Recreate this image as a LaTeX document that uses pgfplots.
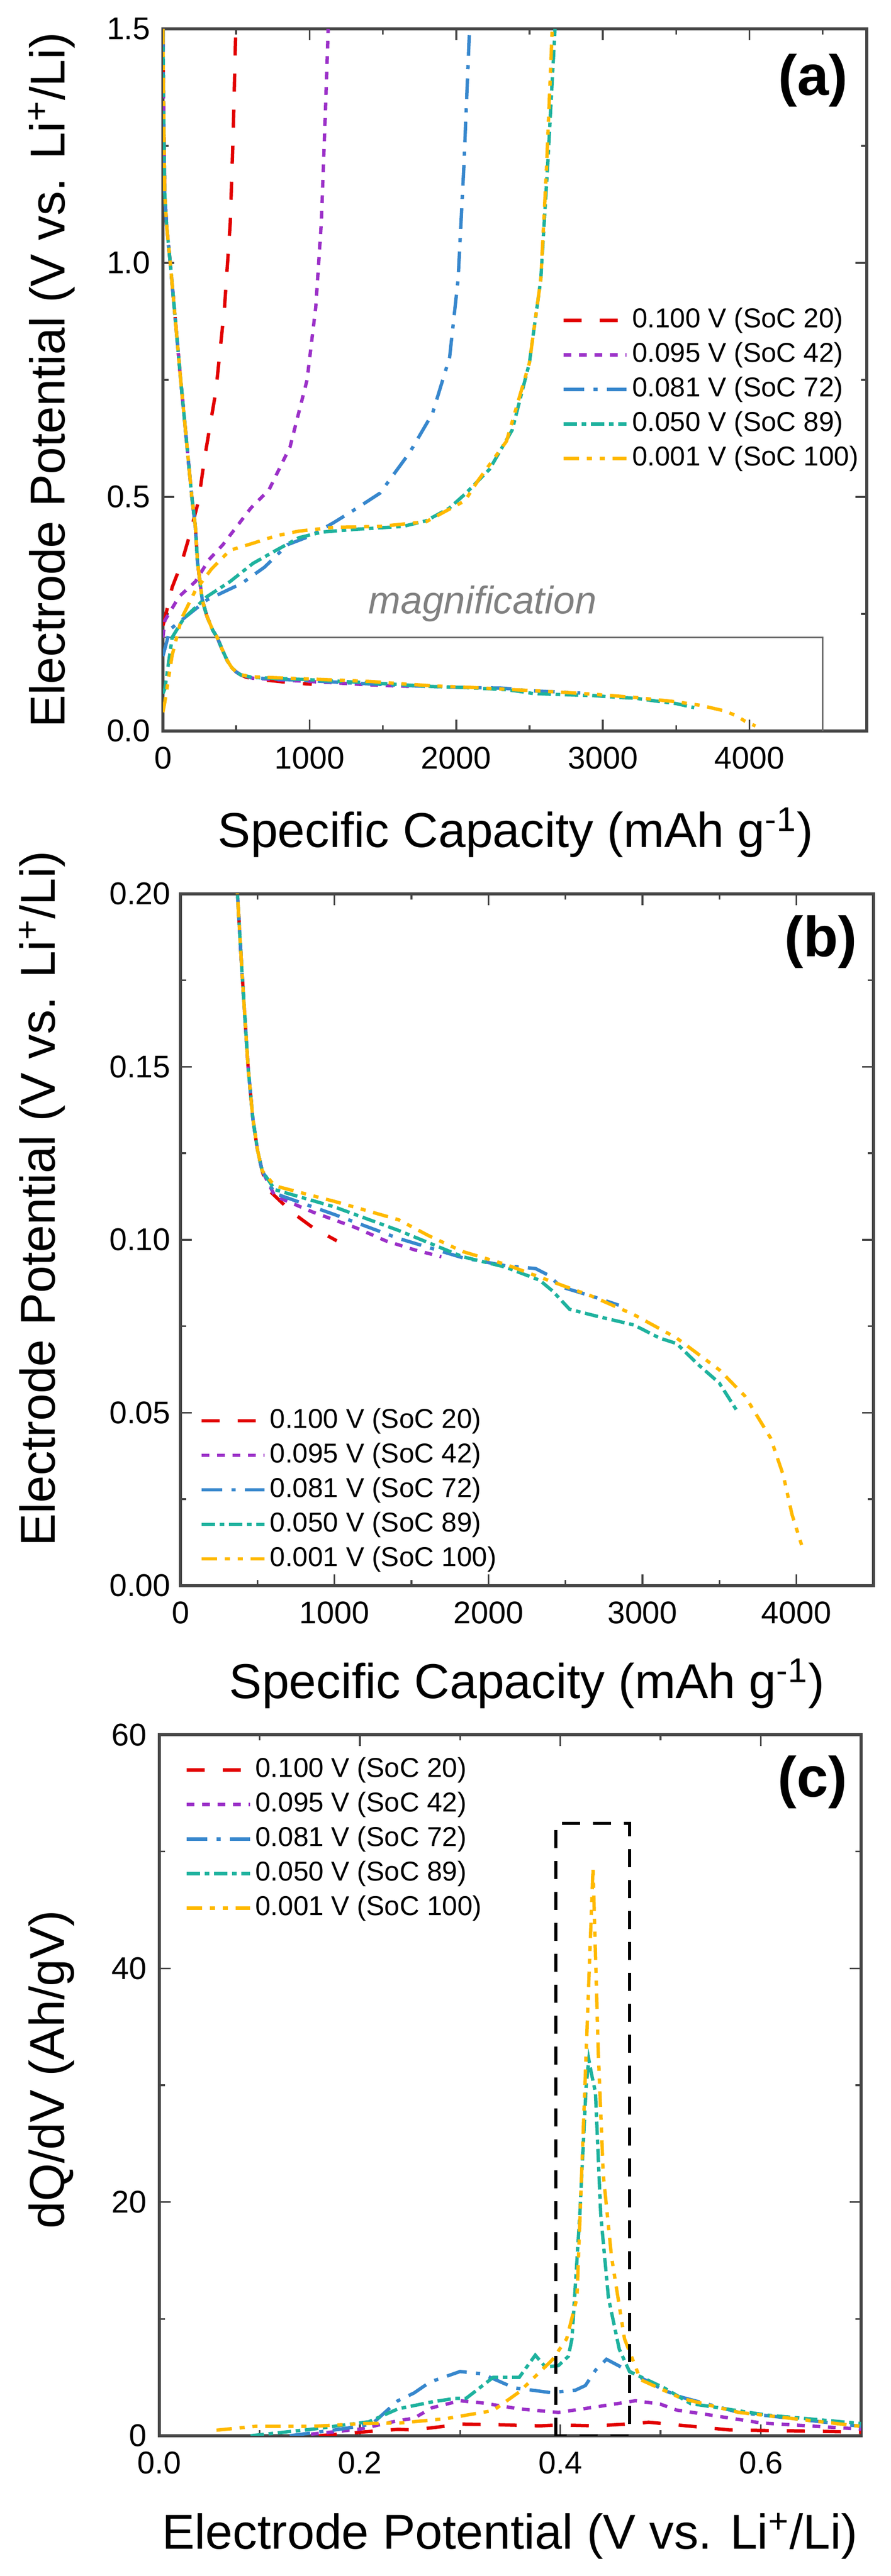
\documentclass[border=0pt]{standalone}
\usepackage{fontspec}
\setmainfont{Liberation Sans}
\usepackage{pgfplots}
\pgfplotsset{compat=1.18}
\definecolor{cred}{RGB}{226,0,0}
\definecolor{cpur}{RGB}{155,48,200}
\definecolor{cblu}{RGB}{55,135,205}
\definecolor{ctea}{RGB}{30,178,158}
\definecolor{cyel}{RGB}{255,185,0}
\definecolor{frame}{RGB}{70,70,70}
\pgfplotsset{
  sred/.style={cred, line width=1.3pt, dash pattern=on 7pt off 7pt},
  spur/.style={cpur, line width=1.3pt, dash pattern=on 3pt off 3pt},
  sblu/.style={cblu, line width=1.3pt, dash pattern=on 8pt off 3.6pt on 1.6pt off 3.6pt},
  stea/.style={ctea, line width=1.3pt, dash pattern=on 5.2pt off 1.8pt on 1.8pt off 1.8pt},
  syel/.style={cyel, line width=1.3pt, dash pattern=on 6pt off 3pt on 2pt off 3pt on 2pt off 3pt},
  myaxis/.style={
    scale only axis, anchor=south west,
    axis line style={frame, line width=1.1pt},
    tick style={frame, line width=0.7pt},
    major tick length=4.4pt, minor tick length=2.2pt,
    tick align=inside,
    ticklabel style={font=\fontsize{12.2}{14}\selectfont, black},
    xticklabel style={yshift=-2.6pt},
    yticklabel style={xshift=-1.3pt},
    /pgf/number format/assume math mode=true,
    scaled ticks=false,
    x tick label style={/pgf/number format/1000 sep={}},
    legend cell align=left,
    legend image code/.code={\draw[##1] (0pt,0pt) -- (24.5pt,0pt);},
    legend style={draw=none, fill=none, inner sep=0pt, row sep=0pt,
      font=\fontsize{10.6}{12}\selectfont,
      nodes={inner sep=1.5pt, text height=8pt, text depth=2.4pt}},
    no marks,
  },
}
\begin{document}
\begin{tikzpicture}
% ---------------- (a)
\begin{axis}[myaxis, at={(63.2pt,715.8pt)}, width=273pt, height=272.4pt,
  xmin=0, xmax=4800, ymin=0, ymax=1.5,
  xtick={0,1000,2000,3000,4000}, minor xtick={500,1500,2500,3500,4500},
  ytick={0,0.5,1,1.5}, minor ytick={0.25,0.75,1.25},
  yticklabel style={/pgf/number format/.cd,fixed,fixed zerofill,precision=1},
  legend style={at={(0.566,0.61)}, anchor=north west}]
\addplot[gray!85!black, line width=0.6pt, forget plot] coordinates {(0,0.2) (4500,0.2) (4500,0)};
\node[font=\fontsize{15}{17}\selectfont\itshape, text=gray] at (axis cs:2180,0.272) {magnification};
% red
\addplot[sred] coordinates {(0,1.5) (4,1.35) (12,1.15) (25,1.08) (50,1.0) (121,0.75) (197,0.5) (221,0.437) (236,0.36) (268,0.28) (300,0.245) (340,0.215) (370,0.2) (400,0.177) (439,0.15) (470,0.135) (500,0.126) (530,0.12) (570,0.1145) (723,0.108) (860,0.1035) (1015,0.0997)};
\addlegendentry{0.100 V (SoC 20)}
\addplot[sred, forget plot] coordinates {(0,0.225) (13,0.24) (63,0.307) (126,0.358) (181,0.417) (243,0.492) (284,0.583) (361,0.726) (420,0.905) (459,1.085) (478,1.264) (497,1.5)};
% purple
\addplot[spur] coordinates {(0,1.5) (4,1.35) (12,1.15) (25,1.08) (50,1.0) (121,0.75) (197,0.5) (221,0.437) (236,0.36) (268,0.28) (300,0.245) (340,0.215) (370,0.2) (400,0.177) (439,0.15) (470,0.135) (500,0.126) (530,0.12) (612,0.1127) (860,0.108) (1138,0.1035) (1333,0.0997) (1527,0.097) (1694,0.0951)};
\addlegendentry{0.095 V (SoC 42)}
\addplot[spur, forget plot] coordinates {(0,0.2) (13,0.236) (110,0.287) (221,0.319) (314,0.366) (409,0.398) (504,0.437) (599,0.476) (723,0.515) (867,0.607) (983,0.75) (1042,0.905) (1080,1.085) (1108,1.323) (1127,1.5)};
% blue
\addplot[sblu] coordinates {(0,1.5) (4,1.35) (12,1.15) (25,1.08) (50,1.0) (121,0.75) (197,0.5) (221,0.437) (236,0.36) (268,0.28) (300,0.245) (340,0.215) (370,0.2) (400,0.177) (439,0.15) (470,0.135) (500,0.126) (530,0.12) (612,0.1134) (1000,0.1073) (1416,0.1004) (1833,0.0948) (2110,0.0925) (2305,0.0917) (2388,0.0898) (2471,0.0864) (2665,0.0838) (2846,0.0811)};
\addlegendentry{0.081 V (SoC 72)}
\addplot[sblu, forget plot] coordinates {(0,0.16) (48,0.217) (300,0.28) (536,0.315) (693,0.35) (850,0.398) (1008,0.417) (1164,0.445) (1323,0.476) (1480,0.508) (1683,0.595) (1838,0.678) (1955,0.798) (2013,0.965) (2052,1.204) (2091,1.5)};
% teal
\addplot[stea] coordinates {(0,1.5) (4,1.35) (12,1.15) (25,1.08) (50,1.0) (121,0.75) (197,0.5) (221,0.437) (236,0.36) (268,0.28) (300,0.245) (340,0.215) (370,0.2) (400,0.177) (439,0.15) (470,0.135) (500,0.126) (530,0.12) (612,0.1145) (1000,0.1095) (1416,0.1027) (1833,0.0951) (2110,0.0921) (2333,0.0883) (2416,0.0852) (2527,0.0799) (2722,0.0777) (2943,0.0754) (3111,0.0716) (3222,0.07) (3360,0.064) (3499,0.0586) (3623,0.0499)};
\addlegendentry{0.050 V (SoC 89)}
\addplot[stea, forget plot] coordinates {(0,0.08) (13,0.09) (63,0.2) (141,0.24) (300,0.287) (457,0.319) (614,0.358) (772,0.386) (928,0.413) (1086,0.425) (1323,0.431) (1637,0.437) (1795,0.449) (1953,0.476) (2060,0.506) (2227,0.559) (2382,0.643) (2499,0.786) (2577,0.965) (2623,1.204) (2674,1.5)};
% yellow
\addplot[syel] coordinates {(0,1.5) (4,1.35) (12,1.15) (25,1.08) (50,1.0) (121,0.75) (197,0.5) (221,0.437) (236,0.36) (268,0.28) (300,0.245) (340,0.215) (370,0.2) (400,0.177) (439,0.15) (470,0.135) (500,0.126) (530,0.12) (612,0.1156) (1000,0.1111) (1416,0.1058) (1611,0.1012) (1833,0.0966) (2110,0.0929) (2388,0.0883) (2665,0.0838) (2943,0.0784) (3222,0.0716) (3499,0.0624) (3666,0.0548) (3832,0.0427) (3914,0.032) (3971,0.0206) (4041,0.0107)};
\addlegendentry{0.001 V (SoC 100)}
\addplot[syel, forget plot] coordinates {(0,0.04) (13,0.062) (63,0.162) (126,0.24) (221,0.3) (331,0.346) (457,0.386) (614,0.401) (772,0.417) (928,0.427) (1164,0.435) (1480,0.437) (1795,0.447) (2060,0.492) (2149,0.535) (2343,0.619) (2499,0.786) (2577,0.965) (2616,1.204) (2655,1.5)};
\end{axis}
% ---------------- (b)
\begin{axis}[myaxis, at={(70pt,384.2pt)}, width=268.8pt, height=268.4pt,
  xmin=0, xmax=4500, ymin=0, ymax=0.2,
  xtick={0,1000,2000,3000,4000}, minor xtick={500,1500,2500,3500},
  ytick={0,0.05,0.1,0.15,0.2}, minor ytick={0.025,0.075,0.125,0.175},
  yticklabel style={xshift=1pt,/pgf/number format/.cd,fixed,fixed zerofill,precision=2},
  legend style={at={(0.027,0.264)}, anchor=north west}]
\addplot[sred] coordinates {(0,1.5) (4,1.35) (12,1.15) (25,1.08) (50,1.0) (121,0.75) (197,0.5) (221,0.437) (236,0.36) (268,0.28) (300,0.245) (340,0.215) (370,0.2) (400,0.177) (439,0.15) (470,0.135) (500,0.126) (530,0.12) (570,0.1145) (723,0.108) (860,0.1035) (1015,0.0997)};
\addlegendentry{0.100 V (SoC 20)}
\addplot[spur] coordinates {(0,1.5) (4,1.35) (12,1.15) (25,1.08) (50,1.0) (121,0.75) (197,0.5) (221,0.437) (236,0.36) (268,0.28) (300,0.245) (340,0.215) (370,0.2) (400,0.177) (439,0.15) (470,0.135) (500,0.126) (530,0.12) (612,0.1127) (860,0.108) (1138,0.1035) (1333,0.0997) (1527,0.097) (1694,0.0951)};
\addlegendentry{0.095 V (SoC 42)}
\addplot[sblu] coordinates {(0,1.5) (4,1.35) (12,1.15) (25,1.08) (50,1.0) (121,0.75) (197,0.5) (221,0.437) (236,0.36) (268,0.28) (300,0.245) (340,0.215) (370,0.2) (400,0.177) (439,0.15) (470,0.135) (500,0.126) (530,0.12) (612,0.1134) (1000,0.1073) (1416,0.1004) (1833,0.0948) (2110,0.0925) (2305,0.0917) (2388,0.0898) (2471,0.0864) (2665,0.0838) (2846,0.0811)};
\addlegendentry{0.081 V (SoC 72)}
\addplot[stea] coordinates {(0,1.5) (4,1.35) (12,1.15) (25,1.08) (50,1.0) (121,0.75) (197,0.5) (221,0.437) (236,0.36) (268,0.28) (300,0.245) (340,0.215) (370,0.2) (400,0.177) (439,0.15) (470,0.135) (500,0.126) (530,0.12) (612,0.1145) (1000,0.1095) (1416,0.1027) (1833,0.0951) (2110,0.0921) (2333,0.0883) (2416,0.0852) (2527,0.0799) (2722,0.0777) (2943,0.0754) (3111,0.0716) (3222,0.07) (3360,0.064) (3499,0.0586) (3623,0.0499)};
\addlegendentry{0.050 V (SoC 89)}
\addplot[syel] coordinates {(0,1.5) (4,1.35) (12,1.15) (25,1.08) (50,1.0) (121,0.75) (197,0.5) (221,0.437) (236,0.36) (268,0.28) (300,0.245) (340,0.215) (370,0.2) (400,0.177) (439,0.15) (470,0.135) (500,0.126) (530,0.12) (612,0.1156) (1000,0.1111) (1416,0.1058) (1611,0.1012) (1833,0.0966) (2110,0.0929) (2388,0.0883) (2665,0.0838) (2943,0.0784) (3222,0.0716) (3499,0.0624) (3666,0.0548) (3832,0.0427) (3914,0.032) (3971,0.0206) (4041,0.0107)};
\addlegendentry{0.001 V (SoC 100)}
\end{axis}
% ---------------- (c)
\begin{axis}[myaxis, at={(61.8pt,54.4pt)}, width=272.2pt, height=272pt,
  xmin=0, xmax=0.7, ymin=0, ymax=60,
  xtick={0,0.2,0.4,0.6}, minor xtick={0.1,0.3,0.5},
  ytick={0,20,40,60}, minor ytick={10,30,50},
  xticklabel style={/pgf/number format/.cd,fixed,fixed zerofill,precision=1},
  legend style={at={(0.036,0.975)}, anchor=north west}]
\addplot[sred] coordinates {(0.159,0) (0.2,0.3) (0.238,0.55) (0.254,0.5) (0.283,0.8) (0.3,1.0) (0.334,0.95) (0.38,0.85) (0.398,0.93) (0.436,0.85) (0.476,1.05) (0.488,1.16) (0.52,0.9) (0.569,0.5) (0.606,0.45) (0.65,0.4) (0.7,0.3)};
\addlegendentry{0.100 V (SoC 20)}
\addplot[spur] coordinates {(0.136,0) (0.2,0.57) (0.238,1.29) (0.254,1.5) (0.272,2.4) (0.3,3.0) (0.323,2.8) (0.359,2.3) (0.398,2.0) (0.438,2.5) (0.475,3.0) (0.5,2.7) (0.516,2.2) (0.55,1.77) (0.6,1.1) (0.7,0.57)};
\addlegendentry{0.095 V (SoC 42)}
\addplot[sblu] coordinates {(0.13,0) (0.181,0.57) (0.212,1.0) (0.238,3.0) (0.254,3.66) (0.27,4.6) (0.3,5.5) (0.322,5.3) (0.354,4.1) (0.39,3.7) (0.415,3.9) (0.425,4.3) (0.435,5.6) (0.446,6.55) (0.469,5.5) (0.5035,3.9) (0.521,3.3) (0.578,2.0) (0.7,0.81)};
\addlegendentry{0.081 V (SoC 72)}
\addplot[stea] coordinates {(0.091,0) (0.153,0.57) (0.209,1.2) (0.238,2.3) (0.272,2.9) (0.295,3.2) (0.306,3.2) (0.333,5.0) (0.359,5.0) (0.375,6.9) (0.385,5.9) (0.398,6.0) (0.408,6.8) (0.4116,8.3) (0.4194,18.9) (0.4258,30) (0.4284,32.2) (0.431,31) (0.435,29.4) (0.4403,18.9) (0.448,11.8) (0.4588,7.4) (0.469,5.5) (0.5035,4.1) (0.53,2.75) (0.55,2.5) (0.606,1.77) (0.7,1.05)};
\addlegendentry{0.050 V (SoC 89)}
\addplot[syel] coordinates {(0.057,0.48) (0.096,0.81) (0.153,0.81) (0.204,1.05) (0.241,1.1) (0.2855,1.46) (0.333,2.16) (0.359,3.75) (0.38,5.5) (0.392,6.5) (0.4063,8.3) (0.4166,11.8) (0.4258,32.9) (0.4326,48.6) (0.4378,32.9) (0.4428,22.4) (0.451,15.35) (0.464,8.3) (0.48,4.8) (0.521,3.2) (0.578,2.0) (0.7,0.81)};
\addlegendentry{0.001 V (SoC 100)}
\addplot[black, line width=1.2pt, dash pattern=on 7pt off 5pt, forget plot] coordinates {(0.3955,0) (0.3955,52.4) (0.469,52.4) (0.469,0) (0.3955,0)};
\end{axis}
% axis labels
\node[font=\fontsize{19}{22}\selectfont] at (200pt,676.4pt) {Specific Capacity (mAh g\textsuperscript{-1})};
\node[font=\fontsize{19}{22}\selectfont, rotate=90] at (20pt,852pt) {Electrode Potential (V vs. Li\textsuperscript{+}/Li)};
\node[font=\fontsize{19}{22}\selectfont] at (204.4pt,346.2pt) {Specific Capacity (mAh g\textsuperscript{-1})};
\node[font=\fontsize{19}{22}\selectfont, rotate=90] at (16.3pt,534.4pt) {Electrode Potential (V vs. Li\textsuperscript{+}/Li)};
\node[font=\fontsize{19}{22}\selectfont] at (197.8pt,15.5pt) {Electrode Potential (V vs. Li\textsuperscript{+}/Li)};
\node[font=\fontsize{19}{22}\selectfont, rotate=90] at (20pt,196.5pt) {dQ/dV (Ah/gV)};
% panel letters
\node[font=\fontsize{22}{24}\selectfont\bfseries] at (315.4pt,968.2pt) {(a)};
\node[font=\fontsize{22}{24}\selectfont\bfseries] at (318.4pt,634pt) {(b)};
\node[font=\fontsize{22}{24}\selectfont\bfseries] at (315.2pt,308pt) {(c)};
\pgfresetboundingbox
\useasboundingbox (0,0) rectangle (345.6pt,999.4pt);
\end{tikzpicture}
\end{document}
